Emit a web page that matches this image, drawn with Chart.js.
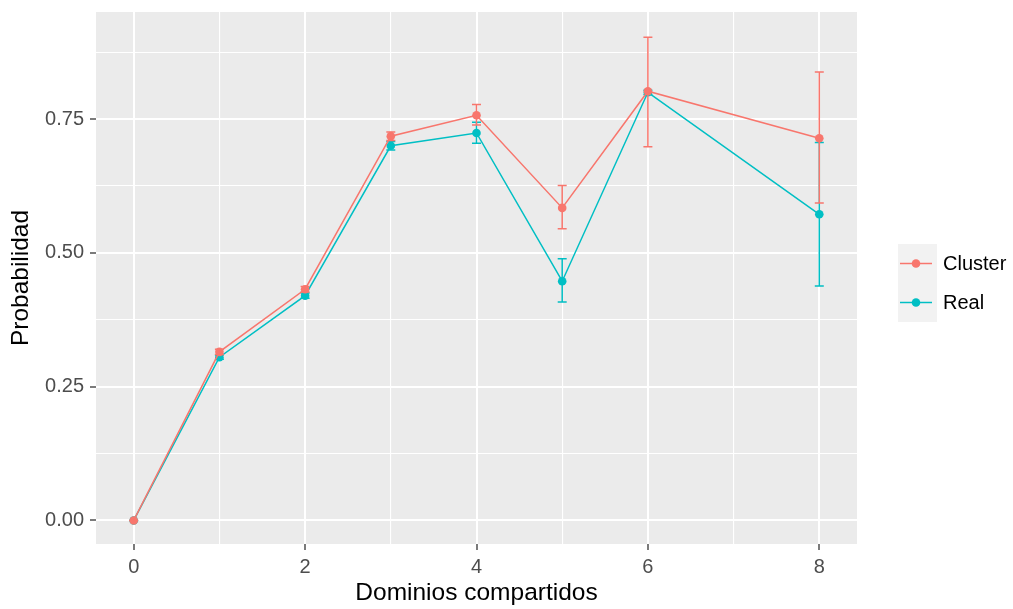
<!DOCTYPE html>
<html>
<head>
<meta charset="utf-8">
<script src="https://cdn.jsdelivr.net/npm/chart.js@4/dist/chart.umd.min.js"></script>
<style>
  html, body { margin: 0; padding: 0; background: #fff; }
  #wrap { width: 1013px; height: 609px; }
</style>
</head>
<body>
<div id="wrap"><canvas id="chart" width="1013" height="609"></canvas></div>
<script>
// values
const dominios = [0, 1, 2, 3, 4, 5, 6, 8];
const clusterProb = [0, 0.315, 0.432, 0.718, 0.757, 0.584, 0.802, 0.714];
const clusterLow  = [0, 0.310, 0.427, 0.710, 0.739, 0.545, 0.698, 0.593];
const clusterHigh = [0, 0.320, 0.437, 0.726, 0.777, 0.626, 0.903, 0.838];
const realProb = [0, 0.305, 0.420, 0.700, 0.724, 0.447, 0.800, 0.572];
const realLow  = [0, 0.301, 0.415, 0.692, 0.705, 0.408, 0.796, 0.438];
const realHigh = [0, 0.309, 0.425, 0.708, 0.744, 0.489, 0.804, 0.706];

const xTicks = [0, 1, 2, 3, 4, 5, 6, 7, 8];
const xLabels = [0, 2, 4, 6, 8];
const yTicks = [0, 0.125, 0.25, 0.375, 0.5, 0.625, 0.75, 0.875];
const yLabels = [0, 0.25, 0.5, 0.75];

const seriesNames = ['Cluster', 'Real'];
const seriesColors = ['#F8766D', '#00BFC4'];

const FONT = '"Liberation Sans", Arial, sans-serif';

function toPoints(xs, ys) {
  return xs.map((x, i) => ({ x: x, y: ys[i] }));
}

// grey ggplot panel
const panelBg = {
  id: 'panelBg',
  beforeDraw(chart) {
    const { ctx, chartArea: a } = chart;
    ctx.save();
    ctx.fillStyle = '#EBEBEB';
    ctx.fillRect(a.left, a.top, a.right - a.left, a.bottom - a.top);
    ctx.restore();
  }
};

// error bars under each series
const errorBars = {
  id: 'errorBars',
  beforeDatasetDraw(chart, args) {
    const ds = chart.data.datasets[args.index];
    const xs = chart.scales.x, ys = chart.scales.y;
    const ctx = chart.ctx;
    ctx.save();
    ctx.strokeStyle = ds.borderColor;
    ctx.lineWidth = 1.5;
    ds.data.forEach((p, i) => {
      const px = xs.getPixelForValue(p.x);
      const lo = ys.getPixelForValue(ds.errLow[i]);
      const hi = ys.getPixelForValue(ds.errHigh[i]);
      ctx.beginPath();
      ctx.moveTo(px, lo); ctx.lineTo(px, hi);
      ctx.moveTo(px - 4.5, lo); ctx.lineTo(px + 4.5, lo);
      ctx.moveTo(px - 4.5, hi); ctx.lineTo(px + 4.5, hi);
      ctx.stroke();
    });
    ctx.restore();
  }
};

// legend on the right, ggplot style
const sideLegend = {
  id: 'sideLegend',
  afterDraw(chart) {
    const ctx = chart.ctx;
    const boxX = 898, boxW = 39, boxH = 39, top = 244;
    ctx.save();
    seriesNames.forEach((name, i) => {
      const y0 = top + i * boxH;
      const cy = y0 + boxH / 2;
      ctx.fillStyle = '#F2F2F2';
      ctx.fillRect(boxX, y0, boxW, boxH);
      ctx.strokeStyle = seriesColors[i];
      ctx.lineWidth = 1.5;
      ctx.beginPath();
      ctx.moveTo(boxX + 2, cy); ctx.lineTo(boxX + boxW - 5, cy);
      ctx.stroke();
      ctx.fillStyle = seriesColors[i];
      ctx.beginPath();
      ctx.arc(boxX + (boxW - 3) / 2, cy, 4.3, 0, Math.PI * 2);
      ctx.fill();
      ctx.fillStyle = '#000';
      ctx.font = '20px ' + FONT;
      ctx.textBaseline = 'middle';
      ctx.textAlign = 'left';
      ctx.fillText(name, boxX + boxW + 6, cy + 1);
    });
    ctx.restore();
  }
};

const datasets = [
  {
    label: seriesNames[0],
    data: toPoints(dominios, clusterProb),
    errLow: clusterLow,
    errHigh: clusterHigh,
    borderColor: seriesColors[0],
    backgroundColor: seriesColors[0],
    borderWidth: 1.5,
    pointRadius: 4.3,
    pointBorderWidth: 0,
    tension: 0
  },
  {
    label: seriesNames[1],
    data: toPoints(dominios, realProb),
    errLow: realLow,
    errHigh: realHigh,
    borderColor: seriesColors[1],
    backgroundColor: seriesColors[1],
    borderWidth: 1.5,
    pointRadius: 4.3,
    pointBorderWidth: 0,
    tension: 0
  }
];

new Chart(document.getElementById('chart'), {
  type: 'line',
  data: { datasets: datasets },
  plugins: [panelBg, errorBars, sideLegend],
  options: {
    responsive: false,
    animation: false,
    devicePixelRatio: 1,
    layout: { padding: { top: 12, right: 156, bottom: 0, left: 0 } },
    plugins: {
      legend: { display: false },
      tooltip: { enabled: false }
    },
    scales: {
      x: {
        type: 'linear',
        min: -0.44,
        max: 8.44,
        afterBuildTicks(scale) { scale.ticks = xTicks.map(v => ({ value: v })); },
        afterFit(scale) {
          scale.height = 65;
          scale.paddingLeft = 0;
          scale.paddingRight = 0;
        },
        border: { display: false },
        grid: {
          color: '#FFFFFF',
          lineWidth: c => xLabels.includes(c.tick.value) ? 2 : 1.1,
          tickColor: c => xLabels.includes(c.tick.value) ? '#333333' : 'rgba(0,0,0,0)',
          tickLength: 6,
          tickWidth: 1.3
        },
        ticks: {
          autoSkip: false,
          maxRotation: 0,
          padding: 5,
          color: '#4D4D4D',
          font: { family: FONT, size: 20 },
          callback: v => xLabels.includes(v) ? String(v) : ''
        },
        title: {
          display: true,
          text: 'Dominios compartidos',
          color: '#000',
          font: { family: FONT, size: 24.5, lineHeight: 1.2 },
          padding: { top: 0, bottom: 1 }
        }
      },
      y: {
        type: 'linear',
        min: -0.044,
        max: 0.950,
        afterBuildTicks(scale) { scale.ticks = yTicks.map(v => ({ value: v })); },
        afterFit(scale) {
          scale.width = 96;
          scale.paddingTop = 0;
          scale.paddingBottom = 0;
        },
        border: { display: false },
        grid: {
          color: '#FFFFFF',
          lineWidth: c => yLabels.includes(c.tick.value) ? 2 : 1.1,
          tickColor: c => yLabels.includes(c.tick.value) ? '#333333' : 'rgba(0,0,0,0)',
          tickLength: 6,
          tickWidth: 1.3
        },
        ticks: {
          autoSkip: false,
          padding: 6,
          color: '#4D4D4D',
          font: { family: FONT, size: 20 },
          callback: v => yLabels.includes(v) ? v.toFixed(2) : ''
        },
        title: {
          display: true,
          text: 'Probabilidad',
          color: '#000',
          font: { family: FONT, size: 24.5, lineHeight: 1.2 },
          padding: { top: 7, bottom: 0 }
        }
      }
    }
  }
});
</script>
</body>
</html>
